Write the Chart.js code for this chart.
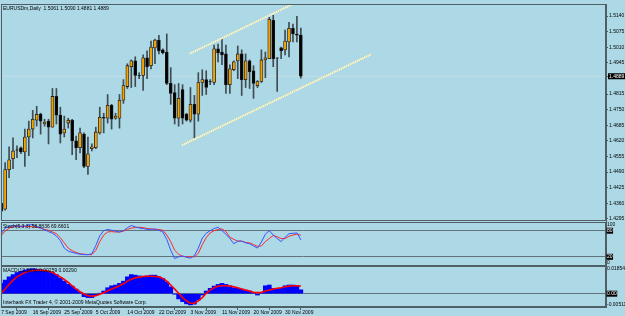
<!DOCTYPE html>
<html>
<head>
<meta charset="utf-8">
<script src="https://cdn.jsdelivr.net/npm/chart.js@4.4.0/dist/chart.umd.min.js"></script>
<style>
  html, body { margin: 0; padding: 0; background: #add8e6; }
  #wrap { position: relative; width: 625px; height: 316px; overflow: hidden; }
  #wrap canvas { position: absolute; left: 0; top: 0; }
</style>
</head>
<body>
<div id="wrap">
  <canvas id="priceChart" width="625" height="316"></canvas>
  <canvas id="stochChart" width="625" height="316"></canvas>
  <canvas id="macdChart" width="625" height="316"></canvas>
</div>
<script>
function $(id) {
  return document.getElementById(id);
}

// EURUSDm daily candles, 7 Sep 2009 .. 2 Dec 2009
const opens = [1.4360, 1.4335, 1.4500, 1.4545, 1.4583, 1.4591, 1.4574, 1.4636, 1.4669, 1.4706,
  1.4731, 1.4690, 1.4702, 1.4677, 1.4805, 1.4727, 1.4653, 1.4694, 1.4706, 1.4620,
  1.4591, 1.4648, 1.4513, 1.4587, 1.4591, 1.4653, 1.4718, 1.4714, 1.4768, 1.4714,
  1.4714, 1.4789, 1.4846, 1.4929, 1.4953, 1.4892, 1.4892, 1.4966, 1.4933, 1.5007,
  1.5040, 1.4999, 1.4990, 1.4859, 1.4821, 1.4714, 1.4834, 1.4731, 1.4706, 1.4772,
  1.4731, 1.4863, 1.4875, 1.4867, 1.4863, 1.5003, 1.4990, 1.4982, 1.4854, 1.4916,
  1.4953, 1.4982, 1.4875, 1.4953, 1.4912, 1.4850, 1.4867, 1.4957, 1.4962, 1.5122,
  1.4966, 1.5007, 1.4999, 1.5032, 1.5089, 1.5065, 1.5061];
const highs = [1.4372, 1.4529, 1.4595, 1.4632, 1.4599, 1.4595, 1.4669, 1.4702, 1.4747, 1.4764,
  1.4735, 1.4710, 1.4710, 1.4838, 1.4838, 1.4760, 1.4723, 1.4714, 1.4710, 1.4640,
  1.4673, 1.4653, 1.4636, 1.4607, 1.4677, 1.4760, 1.4735, 1.4813, 1.4772, 1.4735,
  1.4813, 1.4875, 1.4941, 1.4957, 1.4970, 1.4904, 1.4978, 1.4995, 1.5036, 1.5044,
  1.5060, 1.5003, 1.5065, 1.4925, 1.4854, 1.4859, 1.4854, 1.4735, 1.4842, 1.4809,
  1.4904, 1.4916, 1.4912, 1.4875, 1.5019, 1.5023, 1.5044, 1.5019, 1.4937, 1.4953,
  1.5015, 1.4999, 1.4982, 1.4957, 1.4933, 1.4871, 1.4999, 1.4990, 1.5135, 1.5143,
  1.4966, 1.5011, 1.5081, 1.5114, 1.5106, 1.5139, 1.5090];
const lows = [1.4319, 1.4331, 1.4467, 1.4504, 1.4550, 1.4566, 1.4513, 1.4558, 1.4632, 1.4681,
  1.4648, 1.4681, 1.4607, 1.4677, 1.4690, 1.4611, 1.4636, 1.4673, 1.4562, 1.4541,
  1.4570, 1.4508, 1.4480, 1.4578, 1.4587, 1.4648, 1.4653, 1.4694, 1.4669, 1.4710,
  1.4673, 1.4776, 1.4838, 1.4842, 1.4846, 1.4879, 1.4830, 1.4879, 1.4920, 1.4941,
  1.4982, 1.4982, 1.4854, 1.4772, 1.4690, 1.4681, 1.4690, 1.4702, 1.4698, 1.4632,
  1.4702, 1.4809, 1.4813, 1.4854, 1.4854, 1.4949, 1.4937, 1.4817, 1.4817, 1.4912,
  1.4879, 1.4809, 1.4842, 1.4838, 1.4797, 1.4842, 1.4863, 1.4883, 1.4962, 1.4929,
  1.4826, 1.4962, 1.4978, 1.4970, 1.5032, 1.5032, 1.4881];
const closes = [1.4327, 1.4500, 1.4541, 1.4578, 1.4581, 1.4574, 1.4636, 1.4669, 1.4710, 1.4731,
  1.4702, 1.4698, 1.4677, 1.4805, 1.4727, 1.4648, 1.4669, 1.4706, 1.4620, 1.4591,
  1.4653, 1.4513, 1.4566, 1.4595, 1.4657, 1.4718, 1.4714, 1.4768, 1.4710, 1.4723,
  1.4789, 1.4850, 1.4933, 1.4953, 1.4892, 1.4890, 1.4966, 1.4929, 1.5011, 1.5040,
  1.4995, 1.4986, 1.4859, 1.4817, 1.4714, 1.4797, 1.4714, 1.4706, 1.4772, 1.4731,
  1.4863, 1.4875, 1.4842, 1.4865, 1.5003, 1.4986, 1.4978, 1.4854, 1.4920, 1.4949,
  1.4982, 1.4875, 1.4953, 1.4908, 1.4859, 1.4867, 1.4957, 1.4966, 1.5126, 1.4962,
  1.4964, 1.4995, 1.5036, 1.5089, 1.5065, 1.5060, 1.4889];

// trend channel drawn on the chart (bar index, price)
const channelUpperX = [47.8, 73.9];
const channelUpperY = [1.4983, 1.5189];
const channelLowerX = [45.9, 93.9];
const channelLowerY = [1.4602, 1.4981];

// Stochastic %K / %D
const stochMain = [73, 86, 90, 91, 91, 90, 91, 93, 94, 90,
  86, 82, 78, 74, 68, 57, 40, 33, 30, 28,
  26, 25, 25, 27, 46, 68, 80, 83, 81, 79,
  77, 80, 87, 92, 89, 86, 85, 83, 83, 84,
  81, 77, 60, 35, 16, 20, 22, 19, 17, 23,
  40, 63, 74, 80, 85, 88, 80, 72, 62, 50,
  56, 56, 52, 50, 45, 40, 54, 72, 80, 70,
  62, 55, 65, 73, 74, 75, 58.9];
const stochSignal = [69, 79, 86, 89, 90, 90, 90, 90, 89, 88,
  86, 83, 81, 77, 73, 64, 52, 40, 34, 30,
  27, 26, 25, 25, 35, 55, 70, 77, 78, 77,
  77, 79, 83, 86, 87, 88, 87, 85, 84, 83,
  83, 81, 70, 55, 35, 26, 21, 20, 20, 20,
  28, 48, 64, 75, 80, 83, 84, 78, 65, 60,
  56, 56, 53, 52, 48, 44, 45, 55, 62, 69,
  66, 62, 62, 67, 70, 72, 69.7];

// MACD histogram / signal
const macdHist = [0.0069, 0.0091, 0.0113, 0.0128, 0.0142, 0.0150, 0.0159, 0.0164, 0.0168, 0.0164,
  0.0161, 0.0157, 0.0150, 0.0142, 0.0128, 0.0106, 0.0084, 0.0064, 0.0051, 0.0031,
  0.0009, -0.0020, -0.0026, -0.0026, -0.0013, 0.0003, 0.0018, 0.0040, 0.0053, 0.0058,
  0.0069, 0.0084, 0.0113, 0.0128, 0.0124, 0.0119, 0.0117, 0.0119, 0.0124, 0.0124,
  0.0113, 0.0102, 0.0079, 0.0046, -0.0002, -0.0035, -0.0053, -0.0068, -0.0075, -0.0070,
  -0.0042, -0.0009, 0.0018, 0.0036, 0.0051, 0.0062, 0.0069, 0.0062, 0.0053, 0.0040,
  0.0036, 0.0031, 0.0024, 0.0018, 0.0003, -0.0009, 0.0009, 0.0053, 0.0058, 0.0036,
  0.0031, 0.0036, 0.0053, 0.0058, 0.0058, 0.0053, 0.0026];
const macdSignal = [0.0003, 0.0031, 0.0062, 0.0091, 0.0113, 0.0128, 0.0142, 0.0150, 0.0155, 0.0157,
  0.0157, 0.0155, 0.0150, 0.0142, 0.0128, 0.0113, 0.0095, 0.0075, 0.0053, 0.0031,
  0.0013, -0.0002, -0.0013, -0.0017, -0.0013, -0.0004, 0.0007, 0.0018, 0.0031, 0.0042,
  0.0053, 0.0066, 0.0084, 0.0097, 0.0106, 0.0111, 0.0115, 0.0117, 0.0117, 0.0115,
  0.0113, 0.0102, 0.0084, 0.0058, 0.0031, 0.0003, -0.0026, -0.0048, -0.0064, -0.0064,
  -0.0048, -0.0026, 0.0003, 0.0024, 0.0040, 0.0051, 0.0053, 0.0053, 0.0051, 0.0046,
  0.0040, 0.0031, 0.0024, 0.0018, 0.0009, 0.0007, 0.0009, 0.0018, 0.0024, 0.0031,
  0.0036, 0.0040, 0.0046, 0.0051, 0.0053, 0.0053, 0.0051];

// axis labels
const priceTicks = [1.5140, 1.5075, 1.5010, 1.4945, 1.4815, 1.4750, 1.4685, 1.4620,
  1.4555, 1.4490, 1.4425, 1.4360, 1.4295];
const stochTicks = [100, 80, 20, 0];
const stochLevels = [80, 20];
const macdTicks = [0.01854, 0, -0.00511];
const dateTicks = [0, 8, 16, 24, 32, 40, 48, 56, 64, 72];
const dateLabels = ["7 Sep 2009", "16 Sep 2009", "25 Sep 2009", "5 Oct 2009", "14 Oct 2009",
  "22 Oct 2009", "3 Nov 2009", "11 Nov 2009", "20 Nov 2009", "30 Nov 2009"];

const symbolTitle = "EURUSDm,Daily  1.5061 1.5090 1.4881 1.4889";
const stochTitle = "Stoch(5,3,3) 58.8836 69.6601";
const macdTitle = "MACD(12,26,9) 0.00259 0.00290";
const copyright = "Interbank FX Trader 4, \u00a9 2001-2009 MetaQuotes Software Corp.";

// colours
const FRAME = "#4f5f66";
const BULL = "#f5a300";
const BEAR = "#000000";
const WICK = "#3f4c52";

const X_MIN = -0.05;
const X_MAX = 153.4;
const AXIS_W = 19;

let cd = Chart.defaults;
cd.font.family = "Liberation Sans";
cd.font.size = 5;
cd.color = "#000";
cd.responsive = false;
cd.animation = false;
cd.plugins.legend.display = false;
cd.plugins.tooltip.enabled = false;
cd.elements.point.radius = 0;
cd.elements.line.tension = 0;

const lastClose = closes[closes.length - 1];

// frame round each panel + panel captions
const panelPlugin = {
  id: "panel",
  afterDraw(chart, args, opts) {
    const a = chart.chartArea;
    const c = chart.ctx;
    c.save();
    c.strokeStyle = FRAME;
    c.lineWidth = 1;
    c.strokeRect(Math.round(a.left) + 0.5, Math.round(a.top) + 0.5,
      Math.round(a.right - a.left) - 1, Math.round(a.bottom - a.top) - 1);
    c.fillStyle = "#000";
    c.font = "5px 'Liberation Sans'";
    c.textBaseline = "middle";
    (opts.lines || []).forEach(l => {
      const y = l.fromBottom ? a.bottom - l.dy : a.top + l.dy;
      c.fillText(l.text, a.left + 2, y);
    });
    c.restore();
  }
};

function xAxis() {
  return {
    type: "linear",
    min: X_MIN,
    max: X_MAX,
    offset: false,
    display: false
  };
}

function pairs(xs, ys) {
  return xs.map((x, i) => ({ x: x, y: ys[i] }));
}

function series(values) {
  return values.map((v, i) => ({ x: i, y: v }));
}

function channel(label, xs, ys) {
  // dotted MT4 style: pale yellow dots with white dots in between
  return [{
    type: "line",
    label: label + " base",
    data: pairs(xs, ys),
    order: -1,
    borderColor: "#d9dc96",
    borderWidth: 1.8
  }, {
    type: "line",
    label: label + " dots",
    data: pairs(xs, ys),
    order: -2,
    borderColor: "#ffffff",
    borderWidth: 1.8,
    borderDash: [1, 1]
  }];
}

function priceChart() {
  const bodies = opens.map((o, i) => ({ x: i, y: [o, closes[i]] }));
  const wicks = lows.map((l, i) => ({ x: i, y: [l, highs[i]] }));
  const isBull = ctx => closes[ctx.dataIndex] >= opens[ctx.dataIndex];
  new Chart($("priceChart"), {
    type: "bar",
    data: {
      datasets: [{
        label: "body",
        data: bodies,
        order: 0,
        grouped: false,
        barThickness: 3,
        borderWidth: 0.8,
        borderSkipped: false,
        borderColor: "#1a1a1a",
        backgroundColor: ctx => isBull(ctx) ? BULL : BEAR
      }, {
        label: "wick",
        data: wicks,
        order: 1,
        grouped: false,
        barThickness: 1,
        backgroundColor: WICK
      },
      ...channel("upper", channelUpperX, channelUpperY),
      ...channel("lower", channelLowerX, channelLowerY),
      {
        type: "line",
        label: "bid",
        data: [{ x: X_MIN, y: lastClose }, { x: X_MAX, y: lastClose }],
        order: 5,
        borderColor: "#c4dde6",
        borderWidth: 1
      }]
    },
    options: {
      layout: { padding: { top: 1, left: 1, right: 0, bottom: 316 - 221 } },
      scales: {
        x: xAxis(),
        y: {
          position: "right",
          min: 1.4286,
          max: 1.5190,
          afterFit(s) { s.width = AXIS_W; },
          afterBuildTicks(s) {
            s.ticks = priceTicks.map(v => ({ value: v })).concat([{ value: lastClose }]);
          },
          ticks: {
            autoSkip: false,
            padding: 1,
            callback: v => v.toFixed(4),
            color: ctx => ctx.tick.value === lastClose ? "#fff" : "#000",
            showLabelBackdrop: ctx => ctx.tick.value === lastClose,
            backdropColor: "#000",
            backdropPadding: { top: 0, bottom: 0, left: 1, right: 1 }
          },
          grid: { drawOnChartArea: false, tickLength: 2, color: FRAME },
          border: { color: FRAME }
        }
      },
      plugins: {
        panel: { lines: [{ text: symbolTitle, dy: 4.5 }] }
      }
    },
    plugins: [panelPlugin]
  });
}

function stochChart() {
  new Chart($("stochChart"), {
    type: "line",
    data: {
      datasets: [{
        label: "%K",
        data: series(stochMain),
        borderColor: "#3a55ff",
        borderWidth: 1
      }, {
        label: "%D",
        data: series(stochSignal),
        borderColor: "#ff2a2a",
        borderWidth: 1
      }]
    },
    options: {
      layout: { padding: { top: 222, left: 1, right: 0, bottom: 316 - 265.5 } },
      scales: {
        x: xAxis(),
        y: {
          position: "right",
          min: 0,
          max: 100,
          afterFit(s) { s.width = AXIS_W; },
          afterBuildTicks(s) { s.ticks = stochTicks.map(v => ({ value: v })); },
          ticks: {
            autoSkip: false,
            padding: 1,
            callback: v => v === 100 ? ["", "100"] : (v === 0 ? ["0", ""] : String(v)),
            color: ctx => stochLevels.includes(ctx.tick.value) ? "#fff" : "#000",
            showLabelBackdrop: ctx => stochLevels.includes(ctx.tick.value),
            backdropColor: "#000",
            backdropPadding: { top: 0, bottom: 0, left: 0.5, right: 0.5 }
          },
          grid: {
            drawTicks: false,
            color: ctx => stochLevels.includes(ctx.tick.value) ? "#62737a" : "rgba(0,0,0,0)"
          },
          border: { color: FRAME }
        }
      },
      plugins: {
        panel: { lines: [{ text: stochTitle, dy: 4.5 }] }
      }
    },
    plugins: [panelPlugin]
  });
}

function macdChart() {
  new Chart($("macdChart"), {
    type: "bar",
    data: {
      datasets: [{
        type: "line",
        label: "signal",
        data: series(macdSignal),
        order: 0,
        borderColor: "#ff0000",
        borderWidth: 1.6
      }, {
        label: "macd",
        data: series(macdHist),
        order: 1,
        barThickness: 4,
        backgroundColor: "#0000ff"
      }]
    },
    options: {
      layout: { padding: { top: 266, left: 1, right: 0, bottom: 0 } },
      scales: {
        x: {
          type: "linear",
          min: X_MIN,
          max: X_MAX,
          offset: false,
          position: "bottom",
          afterFit(s) { s.height = 9; },
          afterBuildTicks(s) { s.ticks = dateTicks.map(v => ({ value: v })); },
          ticks: {
            autoSkip: false,
            maxRotation: 0,
            align: "start",
            padding: 0,
            callback: v => dateLabels[dateTicks.indexOf(v)]
          },
          grid: { drawOnChartArea: false, tickLength: 3, color: FRAME },
          border: { color: FRAME }
        },
        y: {
          position: "right",
          min: -0.0089,
          max: 0.01854,
          afterFit(s) { s.width = AXIS_W; },
          afterBuildTicks(s) { s.ticks = macdTicks.map(v => ({ value: v })); },
          ticks: {
            autoSkip: false,
            padding: 1,
            callback: v => v === 0 ? "0.00" : ["", v.toFixed(5)],
            color: ctx => ctx.tick.value === 0 ? "#fff" : "#000",
            showLabelBackdrop: ctx => ctx.tick.value === 0,
            backdropColor: "#000",
            backdropPadding: { top: 0, bottom: 0, left: 0.5, right: 0.5 }
          },
          grid: {
            drawTicks: false,
            color: ctx => ctx.tick.value === 0 ? "#62737a" : "rgba(0,0,0,0)"
          },
          border: { color: FRAME }
        }
      },
      plugins: {
        panel: { lines: [{ text: macdTitle, dy: 4.5 }, { text: copyright, dy: 4, fromBottom: true }] }
      }
    },
    plugins: [panelPlugin]
  });
}

window.onload = function() {
  priceChart();
  stochChart();
  macdChart();
};
</script>
</body>
</html>
